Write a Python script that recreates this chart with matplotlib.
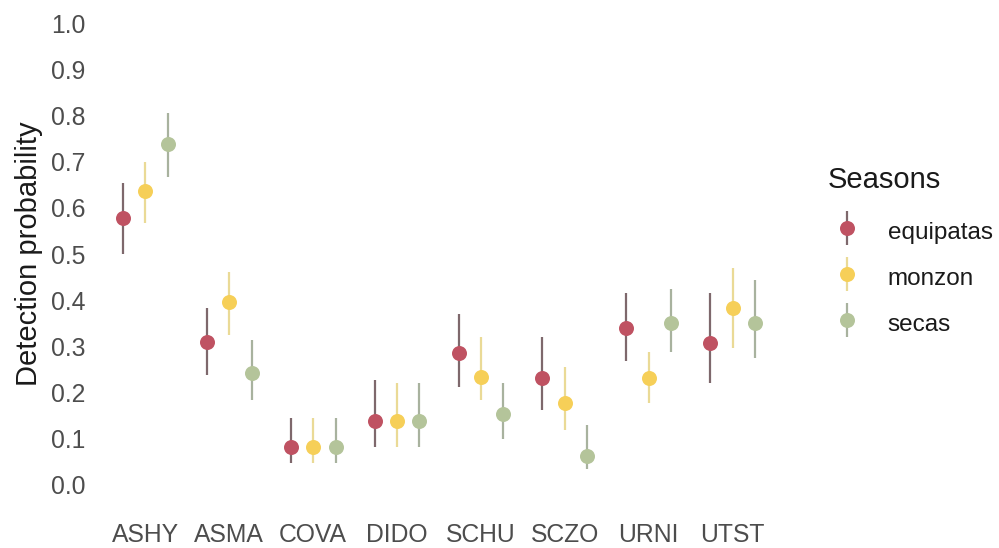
import matplotlib
matplotlib.use("Agg")
import matplotlib.pyplot as plt
import numpy as np
from matplotlib.container import ErrorbarContainer
from matplotlib.legend_handler import HandlerErrorbar

plt.rcParams["font.family"] = ["Liberation Sans", "DejaVu Sans"]

# Species codes and seasons
species = ["ASHY", "ASMA", "COVA", "DIDO", "SCHU", "SCZO", "URNI", "UTST"]
seasons = ["equipatas", "monzon", "secas"]

# Detection probability estimates with lower/upper interval bounds
est_equipatas = [0.577, 0.309, 0.082, 0.138, 0.285, 0.231, 0.339, 0.307]
lo_equipatas = [0.499, 0.238, 0.048, 0.082, 0.212, 0.162, 0.268, 0.220]
hi_equipatas = [0.654, 0.382, 0.145, 0.227, 0.371, 0.320, 0.415, 0.415]

est_monzon = [0.637, 0.397, 0.082, 0.138, 0.233, 0.177, 0.231, 0.382]
lo_monzon = [0.568, 0.324, 0.048, 0.082, 0.184, 0.119, 0.177, 0.296]
hi_monzon = [0.700, 0.462, 0.145, 0.220, 0.320, 0.255, 0.287, 0.469]

est_secas = [0.739, 0.242, 0.082, 0.138, 0.153, 0.063, 0.350, 0.350]
lo_secas = [0.667, 0.184, 0.048, 0.082, 0.100, 0.035, 0.287, 0.274]
hi_secas = [0.806, 0.313, 0.145, 0.220, 0.220, 0.130, 0.425, 0.443]

y_ticks = [0.0, 0.1, 0.2, 0.3, 0.4, 0.5, 0.6, 0.7, 0.8, 0.9, 1.0]

series = {
    "equipatas": (est_equipatas, lo_equipatas, hi_equipatas),
    "monzon": (est_monzon, lo_monzon, hi_monzon),
    "secas": (est_secas, lo_secas, hi_secas),
}
point_colors = {"equipatas": "#BF5262", "monzon": "#F6CF58", "secas": "#B4C49A"}
line_colors = {"equipatas": "#7E686C", "monzon": "#EADA96", "secas": "#A8B29E"}

fig = plt.figure(figsize=(9.99, 5.48), dpi=100)
ax = fig.add_axes([95 / 999, 40 / 548, 688 / 999, 508 / 548])

x = np.arange(len(species))
dodge = 0.8 / 3
for k, s in enumerate(seasons):
    est, lo, hi = (np.array(v) for v in series[s])
    xs = x + (k - 1) * dodge
    ax.errorbar(xs, est, yerr=[est - lo, hi - est], fmt="o",
                ms=10.8, mfc=point_colors[s], mec=point_colors[s], mew=0,
                ecolor=line_colors[s], elinewidth=1.6, capsize=0, label=s)

ax.set_xlim(-0.6, len(species) - 0.4)
ax.set_ylim(-0.05, 1.05)
ax.set_xticks(x)
ax.set_xticklabels(species)
ax.set_yticks(y_ticks)
ax.set_yticklabels([f"{t:.1f}" for t in y_ticks])
ax.tick_params(axis="both", length=0, labelsize=17.8, labelcolor="#4D4D4D")
ax.tick_params(axis="x", pad=10.5)
ax.tick_params(axis="y", pad=7)
for sp in ax.spines.values():
    sp.set_visible(False)

ax.set_ylabel("Detection probability", fontsize=21, color="#1A1A1A")
ax.yaxis.set_label_coords(-0.076, 0.5)

# Legend title placed as its own text, entries below it
fig.text(828 / 999, 1 - 180 / 548, "Seasons", fontsize=21, color="#1A1A1A",
         ha="left", va="center")
leg = ax.legend(loc="upper left",
                bbox_to_anchor=(828 / 999, 1 - 217 / 548),
                bbox_transform=fig.transFigure, frameon=False,
                fontsize=17.5, borderpad=0, borderaxespad=0, handlelength=1.6,
                handletextpad=0.85, handleheight=1.4, labelspacing=0.74,
                handler_map={ErrorbarContainer: HandlerErrorbar(yerr_size=0.7)})
for t in leg.get_texts():
    t.set_color("#1A1A1A")

fig.savefig("out.png", dpi=100)
